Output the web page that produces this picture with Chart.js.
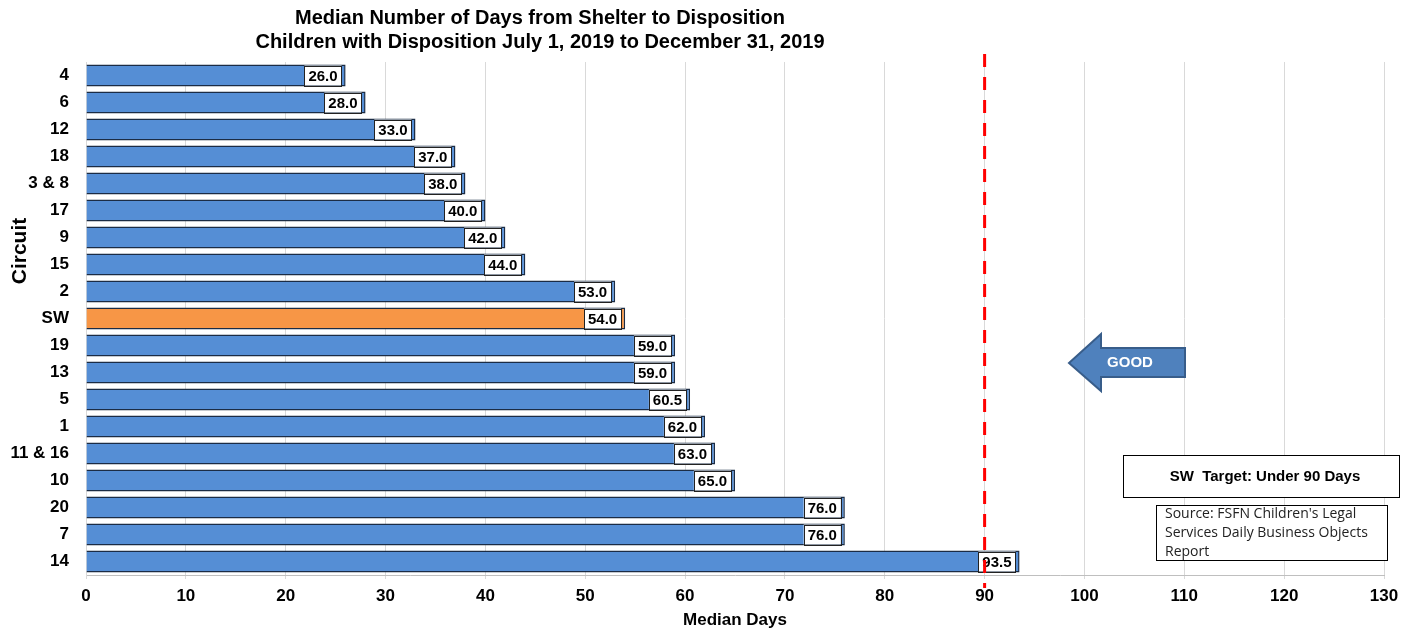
<!DOCTYPE html>
<html>
<head>
<meta charset="utf-8">
<title>Median Number of Days from Shelter to Disposition</title>
<script src="https://cdn.jsdelivr.net/npm/chart.js@4/dist/chart.umd.min.js"></script>
<style>
  html, body { margin: 0; padding: 0; background: #fff; }
  canvas { display: block; }
</style>
</head>
<body>
<canvas id="chart" width="1417" height="633"></canvas>
<script>
// Circuits, sorted from shortest to longest median
const circuits = ['4', '6', '12', '18', '3 & 8', '17', '9', '15', '2', 'SW', '19', '13', '5', '1', '11 & 16', '10', '20', '7', '14'];
const medianDays = [26.0, 28.0, 33.0, 37.0, 38.0, 40.0, 42.0, 44.0, 53.0, 54.0, 59.0, 59.0, 60.5, 62.0, 63.0, 65.0, 76.0, 76.0, 93.5];
const targetDays = 90;
const xTicks = [0, 10, 20, 30, 40, 50, 60, 70, 80, 90, 100, 110, 120, 130];

const titleLines = ['Median Number of Days from Shelter to Disposition', 'Children with Disposition July 1, 2019 to December 31, 2019'];
const sourceLines = ["Source: FSFN Children's Legal", 'Services Daily Business Objects', 'Report'];

const blue = '#558ED5';
const orange = '#F79646';
const barColors = circuits.map(c => c === 'SW' ? orange : blue);

// White value boxes sitting inside the end of each bar
const valueBoxes = {
  id: 'valueBoxes',
  afterDatasetsDraw(chart) {
    const { ctx } = chart;
    const meta = chart.getDatasetMeta(0);
    ctx.save();
    ctx.font = 'bold 15px Arial';
    ctx.textAlign = 'center';
    ctx.textBaseline = 'middle';
    meta.data.forEach((bar, i) => {
      const text = medianDays[i].toFixed(1);
      const w = ctx.measureText(text).width + 8;
      const h = 20;
      const right = bar.x - 4;
      const left = right - w;
      ctx.fillStyle = '#fff';
      ctx.fillRect(left, bar.y - h / 2, w, h);
      ctx.strokeStyle = '#222';
      ctx.lineWidth = 1;
      ctx.strokeRect(Math.round(left) + 0.5, Math.round(bar.y - h / 2) + 0.5, Math.round(w), h);
      ctx.fillStyle = '#000';
      ctx.fillText(text, left + w / 2, bar.y + 1);
    });
    ctx.restore();
  }
};

// Titles, target line, arrow and note boxes
const extras = {
  id: 'extras',
  afterDraw(chart) {
    const { ctx, scales: { x } } = chart;
    ctx.save();

    ctx.fillStyle = '#000';
    ctx.textAlign = 'center';
    ctx.textBaseline = 'middle';
    ctx.font = 'bold 20px Arial';
    ctx.fillText(titleLines[0], 540, 18);
    ctx.fillText(titleLines[1], 540, 42);

    ctx.font = 'bold 17px Arial';
    ctx.fillText('Median Days', 735, 620);

    ctx.save();
    ctx.translate(20, 251);
    ctx.rotate(-Math.PI / 2);
    ctx.font = 'bold 21px Arial';
    ctx.fillText('Circuit', 0, 0);
    ctx.restore();

    // target line
    const tx = x.getPixelForValue(targetDays);
    ctx.strokeStyle = '#FF0000';
    ctx.lineWidth = 3;
    ctx.setLineDash([13, 10]);
    ctx.beginPath();
    ctx.moveTo(tx, 54);
    ctx.lineTo(tx, 588);
    ctx.stroke();
    ctx.setLineDash([]);

    // GOOD arrow pointing left
    ctx.fillStyle = '#4F81BD';
    ctx.strokeStyle = '#385D8A';
    ctx.lineWidth = 2;
    ctx.beginPath();
    ctx.moveTo(1069, 363);
    ctx.lineTo(1101, 334);
    ctx.lineTo(1101, 348);
    ctx.lineTo(1185, 348);
    ctx.lineTo(1185, 377);
    ctx.lineTo(1101, 377);
    ctx.lineTo(1101, 391);
    ctx.closePath();
    ctx.fill();
    ctx.stroke();
    ctx.fillStyle = '#fff';
    ctx.font = 'bold 15px Arial';
    ctx.fillText('GOOD', 1130, 363);

    // target box
    ctx.fillStyle = '#fff';
    ctx.fillRect(1123, 455, 276, 42);
    ctx.strokeStyle = '#000';
    ctx.lineWidth = 1;
    ctx.strokeRect(1123.5, 455.5, 276, 42);
    ctx.fillStyle = '#000';
    ctx.font = 'bold 15px Arial';
    ctx.fillText('SW  Target: Under 90 Days', 1265, 477);

    // source box
    ctx.fillStyle = '#fff';
    ctx.fillRect(1156, 505, 231, 55);
    ctx.strokeRect(1156.5, 505.5, 231, 55);
    ctx.fillStyle = '#222';
    ctx.font = '14px "Open Sans", Arial';
    ctx.textAlign = 'left';
    sourceLines.forEach((line, i) => ctx.fillText(line, 1165, 514 + i * 19));

    ctx.restore();
  }
};

new Chart(document.getElementById('chart'), {
  type: 'bar',
  data: {
    labels: circuits,
    datasets: [{
      data: medianDays,
      backgroundColor: barColors,
      borderColor: '#1B2C45',
      borderWidth: 1.5,
      borderSkipped: 'start',
      categoryPercentage: 1,
      barPercentage: 0.81
    }]
  },
  options: {
    indexAxis: 'y',
    responsive: false,
    animation: false,
    layout: { padding: { top: 62, right: 33, left: 0, bottom: 0 } },
    plugins: {
      legend: { display: false },
      title: { display: false },
      tooltip: { enabled: false }
    },
    scales: {
      x: {
        min: 0,
        max: 130,
        afterBuildTicks: scale => { scale.ticks = xTicks.map(v => ({ value: v })); },
        afterFit: scale => { scale.height = 58; },
        grid: { color: '#D9D9D9', tickLength: 4, tickColor: '#D9D9D9' },
        border: { color: '#BFBFBF' },
        ticks: {
          color: '#000',
          padding: 7,
          font: { family: 'Arial', size: 17, weight: 'bold' }
        }
      },
      y: {
        afterFit: scale => { scale.width = 86; },
        grid: { display: false },
        border: { color: '#D9D9D9' },
        ticks: {
          color: '#000',
          padding: 9,
          font: { family: 'Arial', size: 17, weight: 'bold' }
        }
      }
    }
  },
  plugins: [valueBoxes, extras]
});
</script>
</body>
</html>
